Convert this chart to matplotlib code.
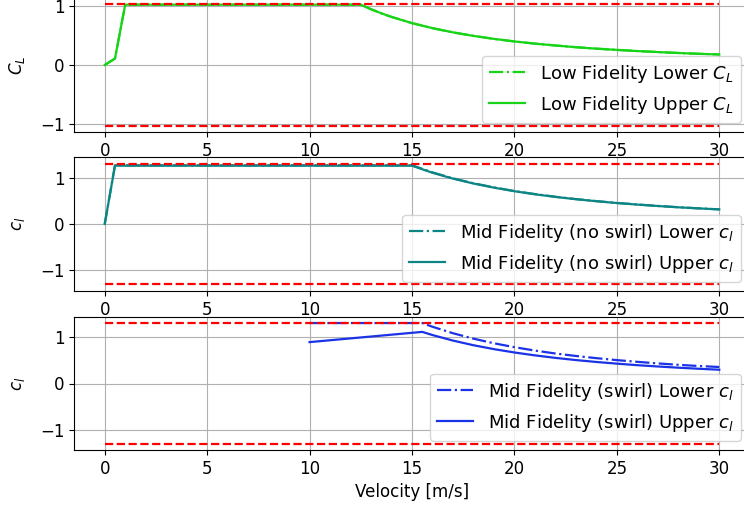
import matplotlib
matplotlib.use("Agg")
import matplotlib.pyplot as plt

# ---- data ----
v_low = [0, 0.5, 1.0, 2, 4, 6, 8, 10, 12, 12.5, 13, 13.5, 14, 15, 16, 17, 18, 19, 20,
         21, 22, 23, 24, 25, 26, 27, 28, 29, 30]
cl_low_upper = [0, 0.11, 1.03, 1.03, 1.03, 1.03, 1.03, 1.03, 1.03, 1.03, 0.952, 0.883, 0.821,
                0.715, 0.629, 0.557, 0.497, 0.446, 0.402, 0.365, 0.333, 0.304, 0.279,
                0.258, 0.238, 0.221, 0.205, 0.191, 0.179]
cl_low_lower = list(cl_low_upper)
cl_max_low = 1.035

v_mid = [0, 0.5, 1, 2, 4, 6, 8, 10, 12, 14, 15, 16, 17, 18, 19, 20, 21, 22, 23, 24, 25,
         26, 27, 28, 29, 30]
cl_mid_upper = [0, 1.27, 1.27, 1.27, 1.27, 1.27, 1.27, 1.27, 1.27, 1.27, 1.27, 1.116, 0.989,
                0.882, 0.792, 0.714, 0.648, 0.590, 0.540, 0.496, 0.457, 0.423, 0.392,
                0.364, 0.340, 0.318]
cl_mid_lower = [0, 1.28, 1.28, 1.28, 1.28, 1.28, 1.28, 1.28, 1.28, 1.28, 1.28, 1.125, 0.995,
                0.888, 0.798, 0.718, 0.652, 0.594, 0.543, 0.499, 0.459, 0.425, 0.394,
                0.366, 0.341, 0.319]
cl_max_mid = 1.31

v_swirl = [10, 12, 14, 15.5, 16, 17, 18, 19, 20, 21, 22, 23, 24, 25, 26, 27, 28, 29, 30]
cl_swirl_lower = [1.30, 1.30, 1.30, 1.30, 1.22, 1.081, 0.964, 0.865, 0.781, 0.708, 0.645,
                  0.592, 0.545, 0.503, 0.466, 0.432, 0.402, 0.376, 0.355]
cl_swirl_upper = [0.89, 0.97, 1.05, 1.11, 1.042, 0.923, 0.823, 0.739, 0.667, 0.605, 0.551,
                  0.504, 0.463, 0.427, 0.394, 0.366, 0.340, 0.317, 0.296]
cl_max_swirl = 1.30

v_limits = [0, 30]

# ---- figure ----
plt.rcParams['font.size'] = 12
fig = plt.figure(figsize=(7.44, 5.12), dpi=100)

left = 74 / 744
width = (750 - 74) / 744
ax1 = fig.add_axes([left, 1 - 132 / 512, width, 134 / 512])
ax2 = fig.add_axes([left, 1 - 291 / 512, width, 134 / 512])
ax3 = fig.add_axes([left, 1 - 450 / 512, width, 133 / 512])

green = '#18d418'
teal = '#0e8585'
blue = '#1a33e6'

# top
ax1.plot(v_low, cl_low_lower, '-.', color=green, lw=1.6, label=r'Low Fidelity Lower $C_L$')
ax1.plot(v_low, cl_low_upper, '-', color=green, lw=1.6, label=r'Low Fidelity Upper $C_L$')
ax1.plot(v_limits, [cl_max_low] * 2, 'r--', lw=1.6)
ax1.plot(v_limits, [-cl_max_low] * 2, 'r--', lw=1.6)
ax1.set_ylabel(r'$C_L$')

# middle
ax2.plot(v_mid, cl_mid_lower, '-.', color=teal, lw=1.6, label=r'Mid Fidelity (no swirl) Lower $c_l$')
ax2.plot(v_mid, cl_mid_upper, '-', color=teal, lw=1.6, label=r'Mid Fidelity (no swirl) Upper $c_l$')
ax2.plot(v_limits, [cl_max_mid] * 2, 'r--', lw=1.6)
ax2.plot(v_limits, [-cl_max_mid] * 2, 'r--', lw=1.6)
ax2.set_ylabel(r'$c_l$')

# bottom
ax3.plot(v_swirl, cl_swirl_lower, '-.', color=blue, lw=1.6, label=r'Mid Fidelity (swirl) Lower $c_l$')
ax3.plot(v_swirl, cl_swirl_upper, '-', color=blue, lw=1.6, label=r'Mid Fidelity (swirl) Upper $c_l$')
ax3.plot(v_limits, [cl_max_swirl] * 2, 'r--', lw=1.6)
ax3.plot(v_limits, [-cl_max_swirl] * 2, 'r--', lw=1.6)
ax3.set_ylabel(r'$c_l$')
ax3.set_xlabel('Velocity [m/s]')

for ax in (ax1, ax2, ax3):
    ax.set_xlim(-1.5, 31.5)
    ax.set_xticks([0, 5, 10, 15, 20, 25, 30])
    ax.set_yticks([-1, 0, 1])
    ax.grid(True)
    ax.legend(loc='lower right', fontsize=13)
    ax.yaxis.set_label_coords(-0.07, 0.5)

ax1.set_ylim(-1.144, 1.144)
ax2.set_ylim(-1.46, 1.46)
ax3.set_ylim(-1.43, 1.43)

fig.savefig('out.png', dpi=100)
